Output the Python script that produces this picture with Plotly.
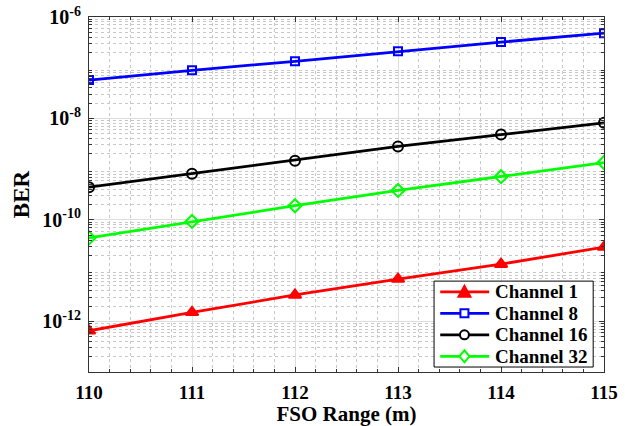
import plotly.graph_objects as go

fso_range = [110, 111, 112, 113, 114, 115]
ber_ch1 = [6.5e-13, 1.5e-12, 3.3e-12, 6.8e-12, 1.34e-11, 2.9e-11]
ber_ch8 = [5.7e-8, 8.9e-8, 1.34e-7, 2.1e-7, 3.2e-7, 4.8e-7]
ber_ch16 = [4.4e-10, 8.1e-10, 1.47e-9, 2.8e-9, 4.8e-9, 8.2e-9]
ber_ch32 = [4.4e-11, 9.3e-11, 1.9e-10, 3.8e-10, 7.1e-10, 1.35e-9]
series_names = ["Channel 1", "Channel 8", "Channel 16", "Channel 32"]
y_tick_vals = [1e-12, 1e-10, 1e-8, 1e-6]
y_tick_text = ["10<sup>-12</sup>", "10<sup>-10</sup>", "10<sup>-8</sup>", "10<sup>-6</sup>"]
x_tick_vals = [110, 111, 112, 113, 114, 115]

font = "Liberation Serif"
colors = ["#FF0000", "#0000FF", "#000000", "#00FF00"]
symbols = ["triangle-up", "square-open", "circle-open", "diamond-open"]
sizes = [11, 8, 10, 10]
values = [ber_ch1, ber_ch8, ber_ch16, ber_ch32]

fig = go.Figure()
for name, vals, color, sym, size in zip(series_names, values, colors, symbols, sizes):
    fig.add_trace(go.Scatter(
        x=fso_range, y=vals, name=name, mode="lines+markers", showlegend=False,
        line=dict(color=color, width=2.8),
        marker=dict(symbol=sym, size=size, color=color, line=dict(color=color, width=2)),
    ))

# custom compact legend (paper coordinates)
lx0, lx1, ly0, ly1 = 0.670, 0.979, 0.014, 0.256
seg0, seg1, mx, tx = 0.682, 0.777, 0.729, 0.785
shapes = [dict(type="rect", xref="paper", yref="paper", x0=lx0, x1=lx1, y0=ly0, y1=ly1,
               fillcolor="white", line=dict(color="black", width=1), layer="above")]
annotations = []
marker_paths = [
    "M-6,-5 L6,-5 L0,6 Z",
    "M-4,-4 L4,-4 L4,4 L-4,4 Z",
    None,
    "M0,-6 L5,0 L0,6 L-5,0 Z",
]
n = len(series_names)
for i, (name, color) in enumerate(zip(series_names, colors)):
    yc = ly1 - (ly1 - ly0) * (2 * i + 1) / (2 * n)
    shapes.append(dict(type="line", xref="paper", yref="paper", x0=seg0, x1=seg1, y0=yc, y1=yc,
                       line=dict(color=color, width=2.8), layer="above"))
    common = dict(xref="paper", yref="paper", xsizemode="pixel", ysizemode="pixel",
                  xanchor=mx, yanchor=yc, layer="above")
    if marker_paths[i] is None:
        shapes.append(dict(type="circle", x0=-4.5, x1=4.5, y0=-4.5, y1=4.5,
                           fillcolor="white", line=dict(color=color, width=2), **common))
    else:
        shapes.append(dict(type="path", path=marker_paths[i],
                           fillcolor=color if i == 0 else "white",
                           line=dict(color=color, width=2), **common))
    annotations.append(dict(xref="paper", yref="paper", x=tx, y=yc, xanchor="left", yanchor="middle",
                            text="<b>" + name + "</b>", showarrow=False,
                            font=dict(family=font, size=19, color="black")))

fig.update_layout(
    width=625, height=426,
    margin=dict(l=89, r=21, t=17, b=54),
    plot_bgcolor="white", paper_bgcolor="white",
    font=dict(family=font, color="black"),
    showlegend=False,
    shapes=shapes, annotations=annotations,
)
fig.update_xaxes(
    range=[110, 115], tickvals=x_tick_vals, automargin=False,
    ticktext=["<b>%d</b>" % v for v in x_tick_vals],
    tickfont=dict(family=font, size=19, color="black"), ticklabelstandoff=3,
    title=dict(text="<b>FSO Range (m)</b>", font=dict(family=font, size=21), standoff=8),
    showline=True, linecolor="#333333", linewidth=1, mirror="ticks",
    ticks="inside", ticklen=5, tickcolor="#333333",
    showgrid=True, gridcolor="#DDDDDD", gridwidth=1,
    minor=dict(dtick=0.2, showgrid=True, gridcolor="#C8C8C8", griddash="dot",
               ticks="inside", ticklen=3, tickcolor="#333333"),
    zeroline=False,
)
fig.update_yaxes(
    type="log", range=[-13, -6], automargin=False,
    tickvals=y_tick_vals, ticktext=["<b>" + t + "</b>" for t in y_tick_text],
    tickfont=dict(family=font, size=20, color="black"), ticklabelstandoff=3,
    title=dict(text="<b>BER</b>", font=dict(family=font, size=23), standoff=6),
    showline=True, linecolor="#333333", linewidth=1, mirror="ticks",
    ticks="inside", ticklen=5, tickcolor="#333333",
    showgrid=True, gridcolor="#DDDDDD", gridwidth=1,
    minor=dict(tickvals=[m * 10 ** e for e in range(-13, -6) for m in range(2, 10)],
               showgrid=True, gridcolor="#C8C8C8", griddash="dot",
               ticks="inside", ticklen=3, tickcolor="#333333"),
    zeroline=False,
)
fig.write_html("out.html")
